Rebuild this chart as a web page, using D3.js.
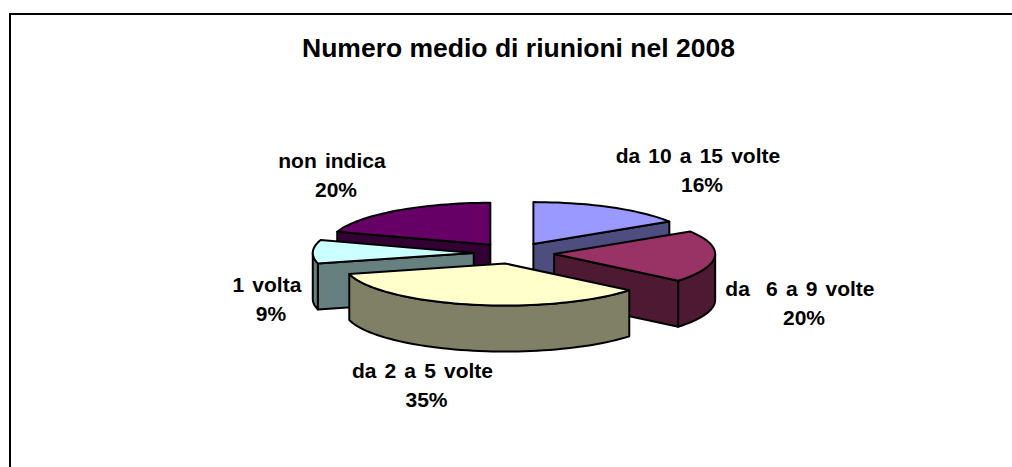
<!DOCTYPE html>
<html>
<head>
<meta charset="utf-8">
<script src="https://cdnjs.cloudflare.com/ajax/libs/d3/7.8.5/d3.min.js"></script>
<style>
  html, body { margin: 0; padding: 0; background: #fff; }
  svg { display: block; }
  text { font-family: "Liberation Sans", Arial, sans-serif; font-weight: bold; fill: #000; white-space: pre; }
</style>
</head>
<body>
<div class="chart"></div>
<script>
const chartTitle = 'Numero medio di riunioni nel 2008';
// trailing space is in the original labels, it pushes the name left of the percent
const categories = ['da 10 a 15 volte ', 'da  6 a 9 volte ', 'da 2 a 5 volte ', '1 volta ', 'non indica '];
const values = [16, 20, 35, 9, 20];
const topColors = ['#9999ff', '#993366', '#ffffcc', '#ccffff', '#660066'];
const sideColors = ['#4d4d80', '#4d1933', '#808066', '#668080', '#330033'];

const width = 1012;
const height = 467;
const cx = 514;
const cy = 253.3;
const rx = 161;
const ry = 42;
const depth = 46;
const explode = 0.25;

// label anchors, one per slice, first line baseline
const labelPos = [[702, 163], [804, 296], [426.5, 378], [271, 292], [336, 168]];
const lineGap = 29;

const svg = d3.select('.chart').append('svg')
    .attr('width', width)
    .attr('height', height);

// frame is open on the right and at the bottom, it runs off the picture
svg.append('path')
    .attr('d', `M10,${height + 2}V14H${width + 2}`)
    .attr('fill', 'none')
    .attr('stroke', '#000')
    .attr('stroke-width', 2);

svg.append('text')
    .attr('x', 518.5)
    .attr('y', 56.5)
    .attr('text-anchor', 'middle')
    .attr('font-size', 26.5)
    .text(chartTitle);

const pie = d3.pie().sort(null).value(d => d)(values);

const slices = pie.map((d, i) => {
  const mid = (d.startAngle + d.endAngle) / 2;
  return {
    i,
    start: d.startAngle,
    end: d.endAngle,
    ax: cx + explode * rx * Math.sin(mid),
    ay: cy - explode * ry * Math.cos(mid)
  };
});

const rim = (s, a, dy) => [s.ax + rx * Math.sin(a), s.ay - ry * Math.cos(a) + dy];
const line = d3.line();

const arcPts = (s, a0, a1, dy) => {
  const n = Math.max(2, Math.ceil((a1 - a0) / 0.04));
  return d3.range(n + 1).map(k => rim(s, a0 + (a1 - a0) * k / n, dy));
};

const radialFace = (s, a) => line([
  [s.ax, s.ay], rim(s, a, 0), rim(s, a, depth), [s.ax, s.ay + depth]
]) + 'Z';

const draw = function (g, d, fill) {
  g.append('path')
      .attr('d', d)
      .attr('fill', fill)
      .attr('stroke', '#000')
      .attr('stroke-width', 2)
      .attr('stroke-linejoin', 'round');
};

// back to front, apex highest on the page goes first
const order = slices.slice().sort((a, b) => a.ay - b.ay);

order.forEach(s => {
  const g = svg.append('g').attr('class', 'slice');
  const side = sideColors[s.i];

  if (Math.sin(s.start) < -1e-6) draw(g, radialFace(s, s.start), side);
  if (Math.sin(s.end) > 1e-6) draw(g, radialFace(s, s.end), side);

  // outer wall, only the part that faces the viewer
  const a0 = Math.max(s.start, Math.PI / 2);
  const a1 = Math.min(s.end, Math.PI * 1.5);
  if (a1 > a0) {
    const pts = arcPts(s, a0, a1, 0).concat(arcPts(s, a0, a1, depth).reverse());
    draw(g, line(pts) + 'Z', side);
  }

  const topPts = [[s.ax, s.ay]].concat(arcPts(s, s.start, s.end, 0));
  draw(g, line(topPts) + 'Z', topColors[s.i]);
});

const labels = svg.append('g').attr('class', 'labels')
  .selectAll('text')
  .data(categories)
  .join('text')
    .attr('text-anchor', 'middle')
    .attr('font-size', 21)
    .attr('word-spacing', 2.3)
    .attr('transform', (d, i) => `translate(${labelPos[i][0]},${labelPos[i][1]})`);

labels.append('tspan')
    .attr('x', 0)
    .attr('y', 0)
    .text(d => d);

labels.append('tspan')
    .attr('x', 0)
    .attr('y', lineGap)
    .text((d, i) => values[i] + '%');
</script>
</body>
</html>
